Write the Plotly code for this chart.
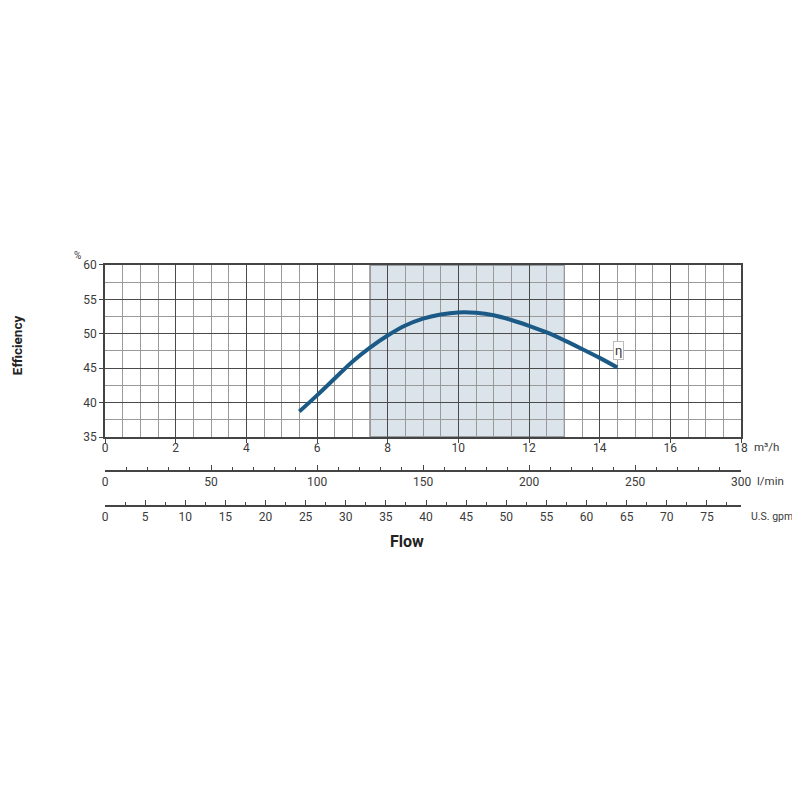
import plotly.graph_objects as go

# efficiency curve (m3/h vs %)
flow_m3h = [5.5, 6.0, 6.5, 7.0, 7.5, 8.0, 8.5, 9.0, 9.5, 10.0, 10.5,
            11.0, 11.5, 12.0, 12.5, 13.0, 13.5, 14.0, 14.5]
efficiency = [38.7, 41.05, 43.5, 45.95, 48.0, 49.75, 51.2, 52.2, 52.8, 53.1, 53.05,
              52.7, 52.0, 51.15, 50.2, 49.05, 47.8, 46.5, 45.1]

# recommended operating range (shaded band)
band = [7.5, 13.0]

# axis ranges
m3h_range = [0, 18]
lmin_range = [0, 300]
gpm_range = [0, 79.25]
eff_range = [35, 60]

font = "Roboto, Arial"
tick_col = "#3a3a3a"

fig = go.Figure()

fig.add_trace(go.Scatter(
    x=flow_m3h, y=efficiency, mode="lines",
    line=dict(color="#1b5a86", width=4, shape="spline", smoothing=1.0),
    showlegend=False, hoverinfo="skip",
))

# invisible traces so the extra flow axes get drawn
fig.add_trace(go.Scatter(x=lmin_range, y=[None, None], xaxis="x2", yaxis="y",
                         mode="markers", showlegend=False, hoverinfo="skip"))
fig.add_trace(go.Scatter(x=gpm_range, y=[None, None], xaxis="x3", yaxis="y",
                         mode="markers", showlegend=False, hoverinfo="skip"))

fig.add_shape(type="rect", xref="x", yref="y", x0=band[0], x1=band[1],
              y0=eff_range[0], y1=eff_range[1], fillcolor="#dbe4eb",
              line=dict(color="#555555", width=1), layer="below")

fig.add_annotation(x=14.52, y=47.5, text="η", showarrow=False,
                   font=dict(family=font, size=13, color="#333"),
                   bordercolor="#bbbbbb", borderwidth=1, borderpad=1,
                   bgcolor="white")

y_dom = [0.45, 0.6889]

fig.update_layout(
    width=792, height=792,
    margin=dict(l=97, r=59, t=33, b=39),
    paper_bgcolor="white", plot_bgcolor="white",
    font=dict(family=font, size=12, color=tick_col),
    xaxis=dict(
        range=m3h_range, dtick=2, domain=[0, 1],
        showgrid=True, gridcolor="#4a4a4a", gridwidth=1,
        minor=dict(dtick=0.5, showgrid=True, gridcolor="#9a9a9a", gridwidth=1),
        ticks="outside", ticklen=4, tickcolor="#444",
        showline=True, linecolor="#444", linewidth=1.5, mirror=True,
        zeroline=False, anchor="y", ticklabelstandoff=-5,
        tickfont=dict(size=12, color=tick_col),
    ),
    yaxis=dict(
        range=eff_range, dtick=5, domain=y_dom,
        showgrid=True, gridcolor="#4a4a4a", gridwidth=1,
        minor=dict(dtick=2.5, showgrid=True, gridcolor="#9a9a9a", gridwidth=1),
        ticks="outside", ticklen=4, tickcolor="#444",
        showline=True, linecolor="#444", linewidth=1.5, mirror=True,
        zeroline=False,
        tickfont=dict(size=12, color=tick_col),
    ),
    xaxis2=dict(
        range=lmin_range, dtick=50, overlaying="x", anchor="free",
        position=0.4028, side="bottom", showgrid=False, zeroline=False,
        showline=True, linecolor="#444", linewidth=1.5,
        ticks="inside", ticklen=5, tickcolor="#444",
        minor=dict(dtick=10, ticks="inside", ticklen=3, tickcolor="#444", showgrid=False),
        tickfont=dict(size=12, color=tick_col),
    ),
    xaxis3=dict(
        range=gpm_range, dtick=5, overlaying="x", anchor="free",
        position=0.3542, side="bottom", showgrid=False, zeroline=False,
        showline=True, linecolor="#444", linewidth=1.5,
        ticks="inside", ticklen=5, tickcolor="#444",
        minor=dict(dtick=2.5, ticks="inside", ticklen=3, tickcolor="#444", showgrid=False),
        tickfont=dict(size=12, color=tick_col),
    ),
)

unit_labels = [("m³/h", 0.4361, 11, 11.5), ("l/min", 0.3889, 14, 11.5),
               ("U.S. gpm", 0.3389, 8, 10.5)]
for txt, yp, shift, size in unit_labels:
    fig.add_annotation(x=1.0, y=yp, xref="paper", yref="paper", text=txt,
                       showarrow=False, xanchor="left", yanchor="middle", xshift=shift,
                       font=dict(family=font, size=size, color=tick_col))

fig.add_annotation(x=0, y=y_dom[1], xref="paper", yref="paper", text="%",
                   showarrow=False, xanchor="right", yanchor="middle",
                   xshift=-22, yshift=9,
                   font=dict(family=font, size=10, color=tick_col))
fig.add_annotation(x=0.475, y=0.3042, xref="paper", yref="paper", text="<b>Flow</b>",
                   showarrow=False, xanchor="center", yanchor="middle",
                   font=dict(family=font, size=16, color="#222"))
fig.add_annotation(x=-0.138, y=0.5778, xref="paper", yref="paper", text="<b>Efficiency</b>",
                   showarrow=False, textangle=-90, xanchor="center", yanchor="middle",
                   font=dict(family=font, size=13.5, color="#222"))

fig.write_html("out.html")
